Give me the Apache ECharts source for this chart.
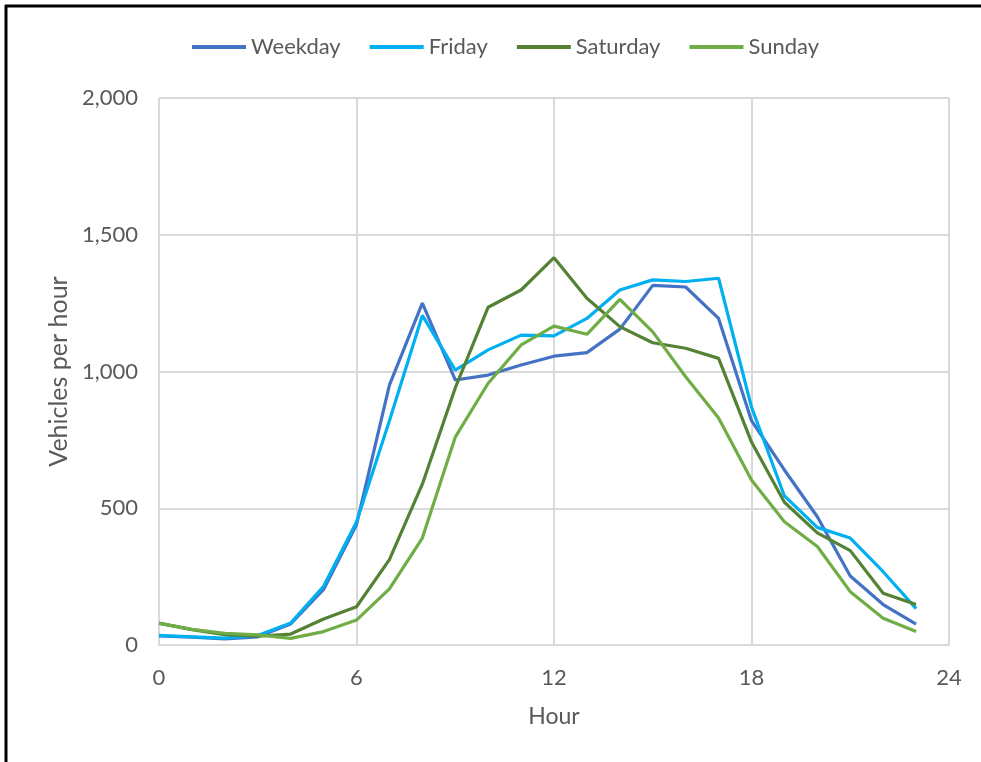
<!DOCTYPE html>
<html>
<head>
<meta charset="utf-8">
<script src="https://cdn.jsdelivr.net/npm/echarts@6/dist/echarts.min.js"></script>
<style>
  html, body { margin: 0; padding: 0; background: #fff; }
  #chart { width: 981px; height: 762px; }
</style>
</head>
<body>
<div id="chart"></div>
<script>
// Hourly traffic volume by day type
const hours = [0,1,2,3,4,5,6,7,8,9,10,11,12,13,14,15,16,17,18,19,20,21,22,23];
const weekday  = [33,29,22,30,77,203,440,950,1250,969,987,1024,1056,1069,1155,1315,1309,1194,820,640,469,252,148,76];
const friday   = [35,30,25,35,80,215,450,820,1205,1005,1079,1133,1130,1194,1298,1335,1329,1341,870,545,430,391,268,133];
const saturday = [80,56,38,32,40,95,140,312,588,940,1235,1298,1416,1268,1164,1105,1085,1048,742,522,410,345,189,148];
const sunday   = [79,57,43,37,24,49,91,205,391,760,957,1097,1166,1136,1264,1145,981,830,603,451,360,195,98,49];
const seriesNames = ['Weekday','Friday','Saturday','Sunday'];
const seriesColors = ['#4472C4','#00B0F0','#548235','#70AD47'];
const yTicks = [0,500,1000,1500,2000];
const xTicks = [0,6,12,18,24];

const FONT = 'Lato, "Open Sans", sans-serif';
const TXT = '#595959';

const toPairs = arr => arr.map((v, i) => [hours[i], v]);
const allData = [weekday, friday, saturday, sunday];

const chart = echarts.init(document.getElementById('chart'), null, { renderer: 'canvas' });
chart.setOption({
  animation: false,
  backgroundColor: '#ffffff',
  textStyle: { fontFamily: FONT, color: TXT },
  graphic: [
    { type: 'line', shape: { x1: 5, y1: 6, x2: 981, y2: 6 }, style: { stroke: '#000', lineWidth: 3 } },
    { type: 'line', shape: { x1: 6, y1: 5, x2: 6, y2: 762 }, style: { stroke: '#000', lineWidth: 3 } }
  ],
  legend: {
    top: 31,
    left: 187,
    itemWidth: 54,
    itemHeight: 4,
    itemGap: 29,
    icon: 'rect',
    textStyle: { fontFamily: FONT, fontSize: 22, color: TXT },
    data: seriesNames
  },
  grid: { left: 159, right: 32, top: 98, bottom: 117, containLabel: false },
  xAxis: {
    type: 'value',
    min: 0, max: 24, interval: 6,
    name: 'Hour',
    nameLocation: 'middle',
    nameGap: 60,
    nameTextStyle: { fontFamily: FONT, fontSize: 23, color: TXT },
    axisLine: { show: true, lineStyle: { color: '#D9D9D9', width: 2 } },
    axisTick: { show: false },
    axisLabel: {
      fontFamily: FONT, fontSize: 22, color: TXT, margin: 22,
      customValues: xTicks
    },
    splitLine: { show: true, lineStyle: { color: '#D9D9D9', width: 2 } }
  },
  yAxis: {
    type: 'value',
    min: 0, max: 2000, interval: 500,
    name: 'Vehicles per hour',
    nameLocation: 'middle',
    nameGap: 87,
    nameTextStyle: { fontFamily: FONT, fontSize: 25, color: TXT },
    axisLine: { show: false },
    axisTick: { show: false },
    axisLabel: {
      fontFamily: FONT, fontSize: 22, color: TXT, margin: 21,
      formatter: v => yTicks.includes(v) ? v.toLocaleString('en-US') : ''
    },
    splitLine: { show: true, lineStyle: { color: '#D9D9D9', width: 2 } }
  },
  series: seriesNames.map((name, i) => ({
    name,
    type: 'line',
    data: toPairs(allData[i]),
    symbol: 'none',
    lineStyle: { color: seriesColors[i], width: 3.2 },
    itemStyle: { color: seriesColors[i] },
    z: 2 + i
  }))
});
</script>
</body>
</html>
